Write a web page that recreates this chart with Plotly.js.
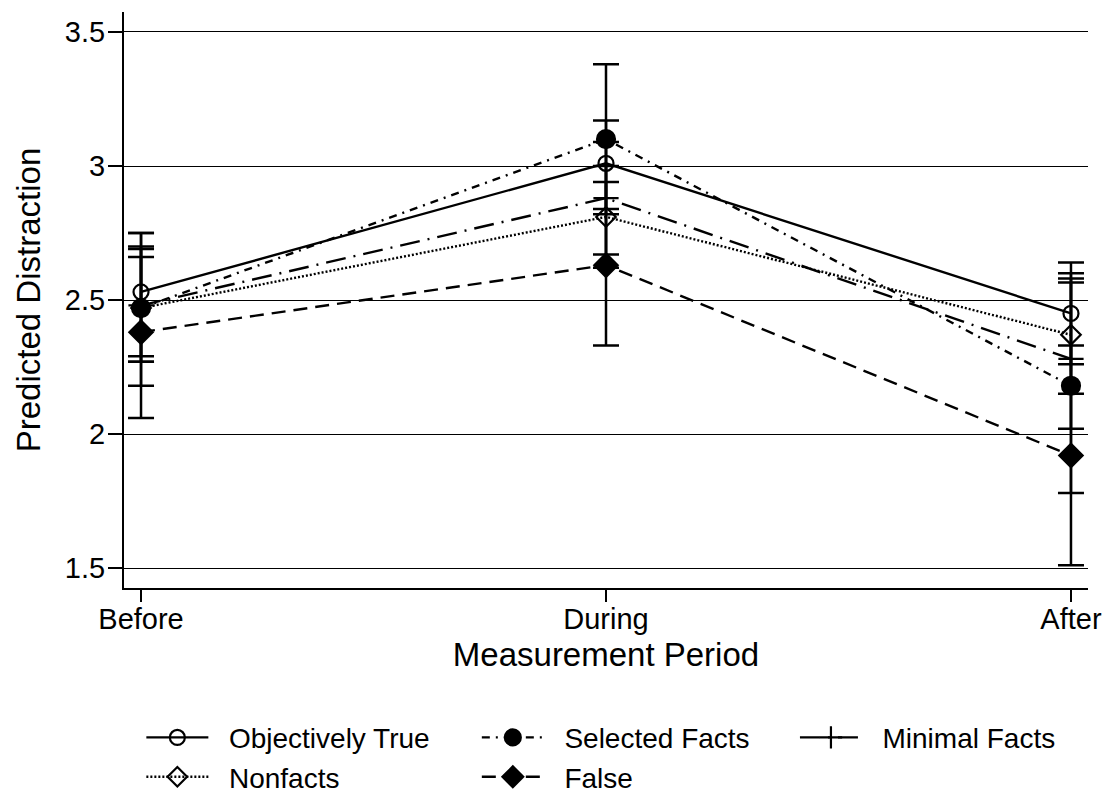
<!DOCTYPE html>
<html>
<head>
<meta charset="utf-8">
<script src="https://cdn.plot.ly/plotly-3.0.1.min.js"></script>
<style>html,body{margin:0;padding:0;background:#fff;}#chart{width:1104px;height:794px;}</style>
</head>
<body>
<div id="chart"></div>
<script>
// ---- data ----
const periods = ["Before", "During", "After"];

const objTrue   = [2.53, 3.01, 2.45];
const objTrueLo = [2.29, 2.84, 2.26];
const objTrueHi = [2.75, 3.17, 2.64];

const selFacts   = [2.47, 3.10, 2.18];
const selFactsLo = [2.18, 2.82, 1.78];
const selFactsHi = [2.75, 3.38, 2.58];

const minFacts   = [2.48, 2.88, 2.28];
const minFactsLo = [2.27, 2.67, 2.02];
const minFactsHi = [2.70, 3.09, 2.565];

const nonFacts   = [2.47, 2.81, 2.37];
const nonFactsLo = [2.27, 2.62, 2.15];
const nonFactsHi = [2.66, 3.00, 2.60];

const falseV   = [2.38, 2.63, 1.92];
const falseLo  = [2.06, 2.33, 1.51];
const falseHi  = [2.69, 2.94, 2.33];

const yTickVals = [1.5, 2, 2.5, 3, 3.5];
const yTickText = ["1.5", "2", "2.5", "3", "3.5"];

// ---- build traces ----
const FONT = "Liberation Sans, Arial, Helvetica, sans-serif";
const GAP = "\u00a0\u00a0";
function errBar(mean, lo, hi) {
  return {
    type: "data", symmetric: false,
    array: hi.map((h, i) => h - mean[i]),
    arrayminus: lo.map((l, i) => mean[i] - l),
    color: "#000", thickness: 2.5, width: 13
  };
}
function series(name, mean, lo, hi, dash, symbol, size, legend) {
  return {
    type: "scatter", mode: "lines+markers", name: GAP + name,
    x: periods, y: mean,
    line: {color: "#000", width: 2.4, dash: dash},
    marker: {symbol: symbol, size: size, color: "#000", line: {color: "#000", width: 2.2}},
    error_y: errBar(mean, lo, hi),
    legend: legend
  };
}

const traces = [
  series("Objectively True", objTrue, objTrueLo, objTrueHi, "solid", "circle-open", 15, "legend"),
  series("Nonfacts", nonFacts, nonFactsLo, nonFactsHi, "2px,2px", "diamond-open", 15, "legend"),
  series("Selected Facts", selFacts, selFactsLo, selFactsHi, "8px,6px,2px,6px", "circle", 18, "legend2"),
  series("False", falseV, falseLo, falseHi, "14px,8px", "diamond", 18, "legend2"),
  series("Minimal Facts", minFacts, minFactsLo, minFactsHi, "20px,8px,2px,8px", "cross-thin-open", 18, "legend3")
];

const legendBase = {
  orientation: "v", yanchor: "top", xanchor: "left", y: -0.2165,
  font: {family: FONT, size: 28, color: "#000"},
  bgcolor: "rgba(0,0,0,0)", borderwidth: 0, tracegroupgap: 0,
  itemwidth: 62, itemclick: false, itemdoubleclick: false
};

const layout = {
  width: 1104, height: 794,
  margin: {l: 124, r: 16, t: 12, b: 206, pad: 0, autoexpand: false},
  paper_bgcolor: "#fff", plot_bgcolor: "#fff",
  font: {family: FONT, color: "#000", size: 29},
  showlegend: true,
  xaxis: {
    type: "category", range: [-0.0366, 2.0366],
    showline: true, linecolor: "#000", linewidth: 2,
    ticks: "outside", ticklen: 12, tickwidth: 1.5, tickcolor: "#000",
    ticklabelstandoff: -8,
    showgrid: false, zeroline: false,
    tickfont: {family: FONT, size: 29, color: "#000"},
    title: {text: "Measurement Period", font: {family: FONT, size: 33, color: "#000"}, standoff: 9},
    automargin: false
  },
  yaxis: {
    range: [1.4254, 3.5746],
    tickvals: yTickVals, ticktext: yTickText,
    showline: true, linecolor: "#000", linewidth: 2,
    ticks: "outside", ticklen: 14, tickwidth: 1.5, tickcolor: "#000",
    ticklabelstandoff: -3,
    showgrid: true, gridcolor: "#000", gridwidth: 1, zeroline: false,
    tickfont: {family: FONT, size: 29, color: "#000"},
    title: {text: "Predicted Distraction", font: {family: FONT, size: 33, color: "#000"}, standoff: 14},
    automargin: false
  },
  legend: Object.assign({}, legendBase, {x: 0.018}),
  legend2: Object.assign({}, legendBase, {x: 0.366}),
  legend3: Object.assign({}, legendBase, {x: 0.696})
};

Plotly.newPlot("chart", traces, layout, {staticPlot: true, displayModeBar: false});
</script>
</body>
</html>
